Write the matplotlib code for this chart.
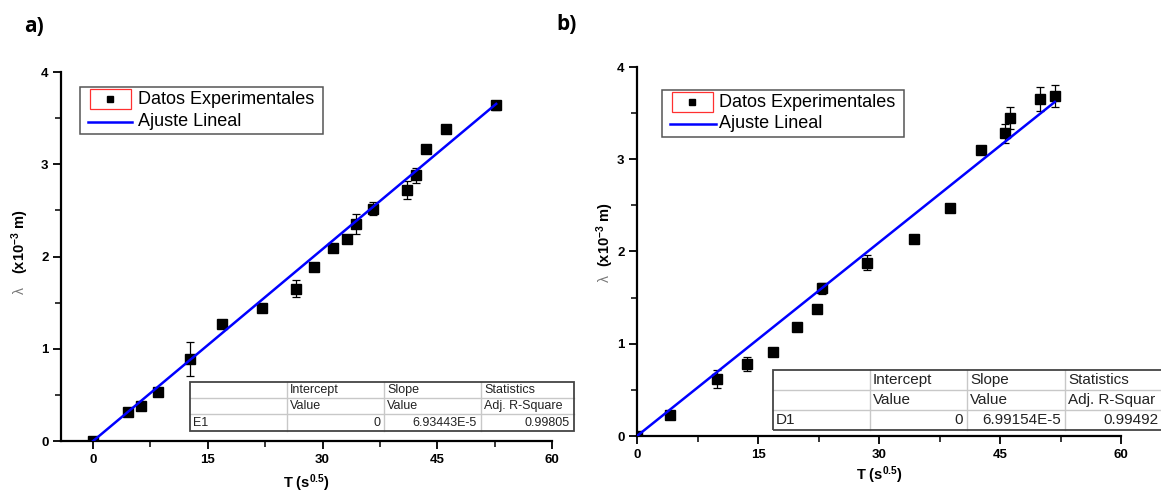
import matplotlib
matplotlib.use("Agg")
import matplotlib.pyplot as plt
from matplotlib.patches import Rectangle
from matplotlib.lines import Line2D
from matplotlib.ticker import MultipleLocator

plt.rcParams['font.family'] = ['Liberation Sans', 'DejaVu Sans']
plt.rcParams['mathtext.fontset'] = 'custom'
plt.rcParams['mathtext.rm'] = 'Liberation Sans'
plt.rcParams['mathtext.bf'] = 'Liberation Sans:bold'
plt.rcParams['mathtext.it'] = 'Liberation Sans:italic'

# ---- data: panel a (series E1) ----
t_a = [0.0, 4.6, 6.2, 8.5, 12.7, 16.9, 22.1, 26.5, 28.9, 31.4, 33.2, 34.4,
       36.6, 41.0, 42.2, 43.5, 46.2, 52.7]
lam_a = [0.0, 0.31, 0.38, 0.53, 0.89, 1.27, 1.44, 1.65, 1.89, 2.09, 2.19, 2.35,
         2.52, 2.72, 2.88, 3.17, 3.38, 3.64]
err_a = [0.0, 0.02, 0.02, 0.02, 0.18, 0.02, 0.02, 0.09, 0.02, 0.02, 0.02, 0.11,
         0.07, 0.10, 0.08, 0.02, 0.02, 0.05]
name_a = "E1"
intercept_a = 0
slope_a = 6.93443e-5
adj_r2_a = 0.99805

# ---- data: panel b (series D1) ----
t_b = [0.0, 4.1, 9.9, 13.6, 16.9, 19.8, 22.3, 22.9, 28.5, 34.4, 38.8, 42.6,
       45.6, 46.2, 50.0, 51.8]
lam_b = [0.0, 0.23, 0.62, 0.78, 0.91, 1.18, 1.38, 1.60, 1.88, 2.14, 2.47, 3.10,
         3.28, 3.45, 3.65, 3.69]
err_b = [0.0, 0.02, 0.10, 0.08, 0.02, 0.02, 0.02, 0.06, 0.08, 0.02, 0.04, 0.02,
         0.10, 0.12, 0.13, 0.12]
name_b = "D1"
intercept_b = 0
slope_b = 6.99154e-5
adj_r2_b = 0.99492

x_ticks = [0, 15, 30, 45, 60]
y_ticks = [0, 1, 2, 3, 4]
legend_labels = ["Datos Experimentales", "Ajuste Lineal"]

W, H = 1161, 494
fig = plt.figure(figsize=(W / 100, H / 100), dpi=100)


def fx(x):
    return x / W


def fy(y):
    return 1 - y / H


def sci(v):
    mant, exp = f"{v:.5E}".split("E")
    return f"{mant}E{int(exp)}"


def make_axes(box, xlim):
    l, t, r, b = box
    ax = fig.add_axes([fx(l), fy(b), fx(r) - fx(l), fy(t) - fy(b)])
    ax.set_xlim(*xlim)
    ax.set_ylim(0, 4)
    for s in ("top", "right"):
        ax.spines[s].set_visible(False)
    for s in ("left", "bottom"):
        ax.spines[s].set_linewidth(1.6)
    ax.set_xticks(x_ticks)
    ax.set_yticks(y_ticks)
    ax.xaxis.set_minor_locator(MultipleLocator(7.5))
    ax.yaxis.set_minor_locator(MultipleLocator(0.5))
    ax.tick_params(which="major", direction="out", length=6, width=1.3,
                   labelsize=9.5, pad=3)
    ax.tick_params(which="minor", direction="out", length=4, width=1.1)
    for lbl in ax.get_xticklabels() + ax.get_yticklabels():
        lbl.set_fontweight("bold")
    return ax


def draw_series(ax, t, lam, err, slope):
    ax.errorbar(t, lam, yerr=err, fmt="s", color="black", ms=7,
                ecolor="black", elinewidth=0.9, capsize=3, capthick=0.9,
                zorder=3)
    k = slope * 1e3
    x_fit = [0, max(t)]
    ax.plot(x_fit, [k * x for x in x_fit], color="#0000ff", lw=1.8, zorder=4)


def draw_legend(frame, red, mk, line, tx):
    fig.add_artist(Rectangle((fx(frame[0]), fy(frame[3])),
                             fx(frame[2]) - fx(frame[0]),
                             fy(frame[1]) - fy(frame[3]),
                             transform=fig.transFigure, fill=True,
                             facecolor="white", edgecolor="#555555", lw=1.1,
                             zorder=5))
    fig.add_artist(Rectangle((fx(red[0]), fy(red[3])),
                             fx(red[2]) - fx(red[0]), fy(red[1]) - fy(red[3]),
                             transform=fig.transFigure, fill=False,
                             edgecolor="#ff3030", lw=0.9, zorder=6))
    fig.add_artist(Line2D([fx(mk[0])], [fy(mk[1])], marker="s", ms=5,
                          color="black", transform=fig.transFigure, zorder=6))
    fig.add_artist(Line2D([fx(line[0]), fx(line[1])], [fy(line[2])] * 2,
                          color="#0000ff", lw=1.8, transform=fig.transFigure,
                          zorder=6))
    fig.text(fx(tx[0]), fy(tx[1]), legend_labels[0], fontsize=13,
             va="center", ha="left", zorder=7)
    fig.text(fx(tx[0]), fy(tx[2]), legend_labels[1], fontsize=13,
             va="center", ha="left", zorder=7)


def draw_table(xs, ys, name, intercept, slope, r2, fs, r2_head):
    rows = [["", "Intercept", "Slope", "Statistics"],
            ["", "Value", "Value", r2_head],
            [name, f"{intercept:g}", sci(slope), f"{r2:.5f}"]]
    fig.add_artist(Rectangle((fx(xs[0]), fy(ys[-1])), fx(xs[-1]) - fx(xs[0]),
                             fy(ys[0]) - fy(ys[-1]), transform=fig.transFigure,
                             facecolor="white", edgecolor="none", zorder=5))
    for x in xs[1:-1]:
        fig.add_artist(Line2D([fx(x)] * 2, [fy(ys[0]), fy(ys[-1])],
                              color="#c8c8c8", lw=1.0,
                              transform=fig.transFigure, zorder=6))
    for y in ys[1:-1]:
        fig.add_artist(Line2D([fx(xs[0]), fx(xs[-1])], [fy(y)] * 2,
                              color="#c8c8c8", lw=1.0,
                              transform=fig.transFigure, zorder=6))
    fig.add_artist(Rectangle((fx(xs[0]), fy(ys[-1])), fx(xs[-1]) - fx(xs[0]),
                             fy(ys[0]) - fy(ys[-1]), transform=fig.transFigure,
                             fill=False, edgecolor="#444444", lw=1.3, zorder=7))
    for i, row in enumerate(rows):
        yc = (ys[i] + ys[i + 1]) / 2
        for j, txt in enumerate(row):
            if i == 2 and j > 0:
                fig.text(fx(xs[j + 1] - 4), fy(yc), txt, fontsize=fs,
                         ha="right", va="center", color="#222222", zorder=8)
            else:
                fig.text(fx(xs[j] + 3), fy(yc), txt, fontsize=fs,
                         ha="left", va="center", color="#222222", zorder=8)


# ---- panel a ----
ax_a = make_axes((61, 72, 552, 441), (-4.2, 60))
draw_series(ax_a, t_a, lam_a, err_a, slope_a)
ax_a.set_xlabel(r"T (s$^{\mathbf{0.5}}$)", fontsize=10.5, fontweight="bold",
                labelpad=5)
draw_legend((80, 87, 323, 134), (90, 89, 131, 109), (110, 99),
            (88, 132, 122), (138, 99, 122))
draw_table([190, 287, 384, 481, 574], [382, 398, 414, 431], name_a,
           intercept_a, slope_a, adj_r2_a, 9, "Adj. R-Square")
fig.text(fx(20), fy(291), "λ", rotation=90, fontsize=10, color="#777777",
         ha="center", va="center")
fig.text(fx(20), fy(242), r"(x10$^{\mathbf{-3}}$ m)", rotation=90,
         fontsize=10.5, fontweight="bold", ha="center", va="center")
fig.text(fx(24), fy(27), "a)", fontsize=15, fontweight="bold",
         family=["Open Sans", "DejaVu Sans"], ha="left", va="center")

# ---- panel b ----
ax_b = make_axes((637, 67, 1121, 436), (0, 60))
draw_series(ax_b, t_b, lam_b, err_b, slope_b)
ax_b.set_xlabel(r"T (s$^{\mathbf{0.5}}$)", fontsize=10.5, fontweight="bold",
                labelpad=3)
draw_legend((662, 90, 904, 137), (672, 92, 713, 112), (692, 102),
            (670, 716, 124), (719, 102, 124))
draw_table([773, 870, 967, 1065, 1163], [370, 390, 410, 430], name_b,
           intercept_b, slope_b, adj_r2_b, 11, "Adj. R-Squar")
fig.text(fx(605), fy(278), "λ", rotation=90, fontsize=10, color="#777777",
         ha="center", va="center")
fig.text(fx(605), fy(235), r"(x10$^{\mathbf{-3}}$ m)", rotation=90,
         fontsize=10.5, fontweight="bold", ha="center", va="center")
fig.text(fx(556), fy(25), "b)", fontsize=15, fontweight="bold",
         family=["Open Sans", "DejaVu Sans"], ha="left", va="center")

fig.savefig("out.png", dpi=100, facecolor="white")
